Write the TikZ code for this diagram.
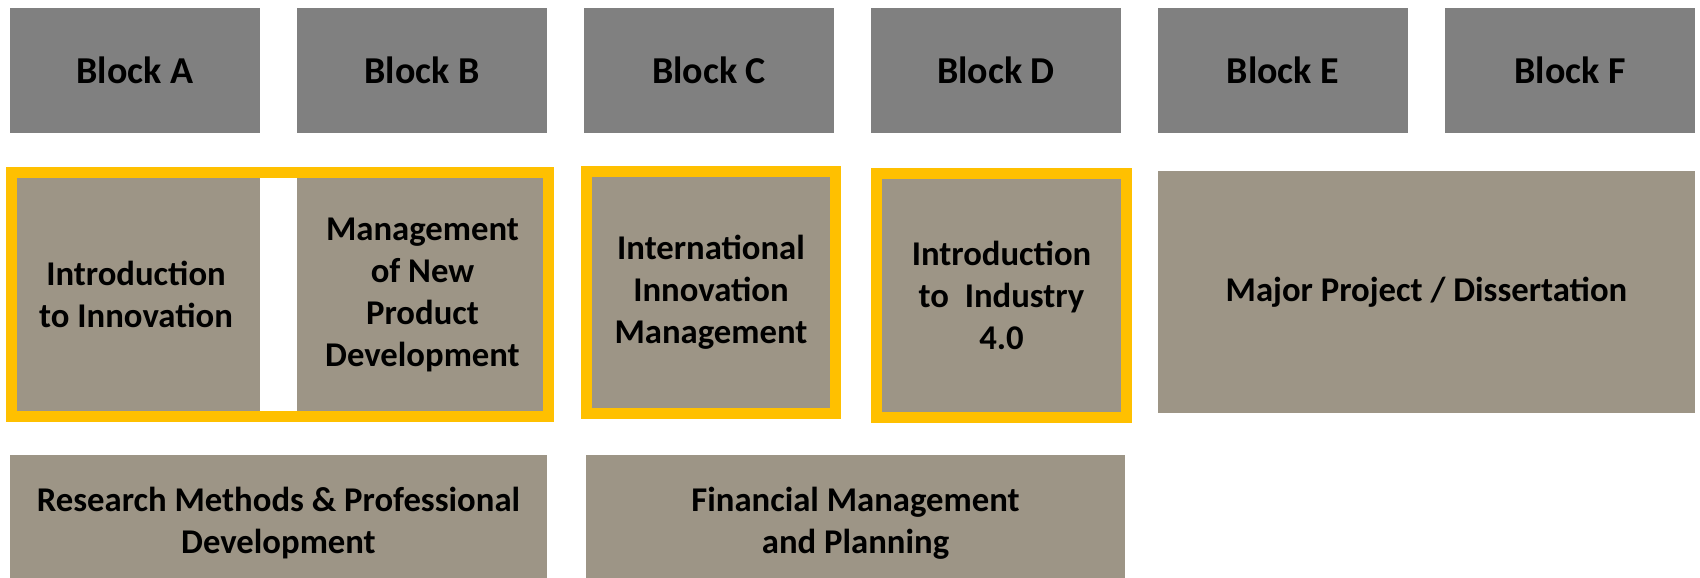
\documentclass[tikz,border=0pt]{standalone}
\usepackage{fontspec}
\setmainfont{Carlito}
\definecolor{blockgray}{RGB}{128,128,128}
\definecolor{modgray}{RGB}{157,149,134}
\definecolor{coreyellow}{RGB}{255,192,0}

\begin{document}
\begin{tikzpicture}[x=1pt,y=-1pt,
		blockhead/.style={fill=blockgray, minimum width=250pt, minimum height=125pt, inner sep=0pt, font=\fontsize{38}{42}\selectfont\bfseries},
		module/.style={fill=modgray, inner sep=0pt, align=center, font=\fontsize{34.7}{42}\selectfont\bfseries},
		coreframe/.style={draw=coreyellow, line width=11pt}]
	\useasboundingbox (0,0) rectangle (1700,578);
	% block headers
	\node (blocka) [blockhead] at (135,70.5) {Block A};
	\node (blockb) [blockhead] at (422,70.5) {Block B};
	\node (blockc) [blockhead] at (709,70.5) {Block C};
	\node (blockd) [blockhead] at (996,70.5) {Block D};
	\node (blocke) [blockhead] at (1283,70.5) {Block E};
	\node (blockf) [blockhead] at (1570,70.5) {Block F};
	% modules
	\node (introinn) [module, minimum width=248pt, minimum height=244pt] at (136,294.5) {Introduction\\to Innovation};
	\node (newprod) [module, minimum width=251pt, minimum height=244pt] at (422.5,294.5) {Management\\of New\\Product\\Development};
	\node (intlinn) [module, minimum width=249pt, minimum height=242pt] at (711,292.5) {International\\Innovation\\Management};
	\node (industry) [module, minimum width=250pt, minimum height=244pt] at (1001.5,295.5) {Introduction\\to~~Industry\\4.0};
	\node (major) [module, minimum width=537pt, minimum height=242pt] at (1426.5,292) {Major Project / Dissertation};
	\node (research) [module, minimum width=537pt, minimum height=136pt] at (278.5,523) {Research Methods \& Professional\\Development};
	\node (finance) [module, minimum width=539pt, minimum height=136pt] at (855.5,523) {Financial Management\\and Planning};
	% core modules
	\draw [coreframe] (introinn.north west) rectangle (newprod.south east);
	\draw [coreframe] (intlinn.north west) rectangle (intlinn.south east);
	\draw [coreframe] (industry.north west) rectangle (industry.south east);
\end{tikzpicture}
\end{document}
